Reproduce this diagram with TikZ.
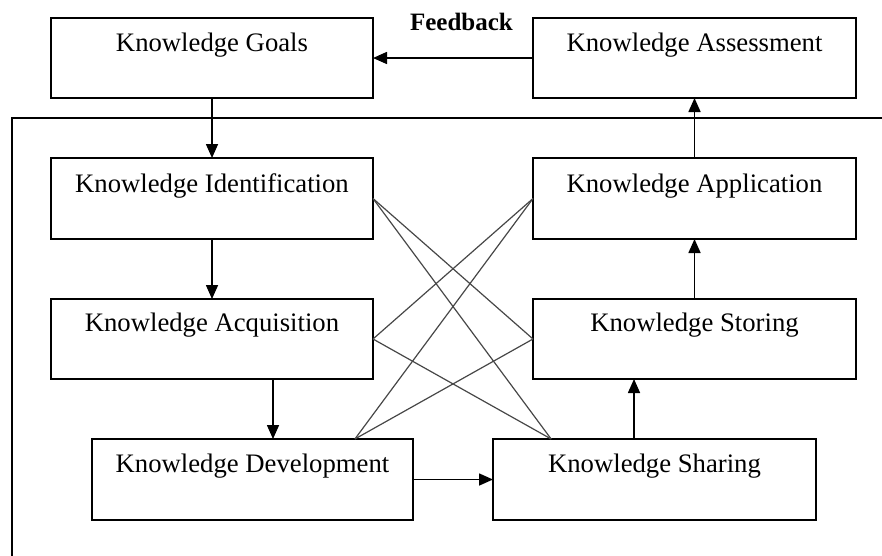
\documentclass[tikz,border=0pt]{standalone}
\usepackage{fontspec}
\setmainfont{Liberation Serif}
\usetikzlibrary{arrows.meta,calc}
\newcommand{\kfont}{\fontsize{26.7}{30}\selectfont}
\newcommand{\fbfont}{\fontsize{25}{28}\selectfont\bfseries}
\begin{document}
\begin{tikzpicture}[x=1pt,y=-1pt,
  kbox/.style={draw, line width=1.6pt, minimum width=322pt, minimum height=80pt, inner sep=0pt, outer sep=0pt},
  ktext/.style={font=\kfont, inner sep=0pt, anchor=north},
  arr/.style={line width=1.6pt, -{Triangle[length=14pt,width=12pt]}},
  cross/.style={line width=1.2pt, draw=black!72},
  frame/.style={line width=1.6pt}
]
\useasboundingbox (0,0) rectangle (882,555);

% boxes
\node[kbox] (goals)  at (212,58) {};
\node[kbox, minimum width=323pt] (assess) at (694.5,58) {};
\node[kbox, minimum height=81pt] (ident)  at (212,198.5) {};
\node[kbox, minimum width=323pt, minimum height=81pt] (appl) at (694.5,198.5) {};
\node[kbox] (acq)    at (212,339) {};
\node[kbox, minimum width=323pt] (stor) at (694.5,339) {};
\node[kbox, minimum width=321pt, minimum height=81pt] (dev) at (252.5,479.5) {};
\node[kbox, minimum width=323pt, minimum height=81pt] (share) at (654.5,479.5) {};

% texts
\node[ktext] (goalsT)  at ([yshift=-14.5pt]goals.north)  {Knowledge Goals};
\node[ktext] (assessT) at ([yshift=-14.5pt]assess.north) {Knowledge Assessment};
\node[ktext] (identT)  at ([yshift=-15.5pt]ident.north)  {Knowledge Identification};
\node[ktext] (applT)   at ([yshift=-15.5pt]appl.north)   {Knowledge Application};
\node[ktext] (acqT)    at ([yshift=-14pt]acq.north)      {Knowledge Acquisition};
\node[ktext] (storT)   at ([yshift=-14pt]stor.north)     {Knowledge Storing};
\node[ktext] (devT)    at ([yshift=-14.5pt]dev.north)    {Knowledge Development};
\node[ktext] (shareT)  at ([yshift=-14.5pt]share.north)  {Knowledge Sharing};

\node[font=\fbfont, inner sep=0pt, anchor=base] (fb) at (461.5,30) {Feedback};

% frame
\draw[frame] (12,556) -- (12,118) -- (883,118);

% cross connections
\coordinate (devtop) at ($(dev.north west)!0.819!(dev.north east)$);
\coordinate (sharetop) at ($(share.north west)!0.18!(share.north east)$);
\draw[cross] (ident.east) -- (stor.west);
\draw[cross] (ident.east) -- (sharetop);
\draw[cross] (appl.west) -- (acq.east);
\draw[cross] (appl.west) -- (devtop);
\draw[cross] (acq.east) -- (sharetop);
\draw[cross] (devtop) -- (stor.west);

% arrows
\draw[arr] (goals.south) -- (ident.north);
\draw[arr] (ident.south) -- (acq.north);
\draw[arr] ([xshift=61pt]acq.south) -- ([xshift=61pt]acq.south |- dev.north);
\draw[arr] (dev.east) -- (share.west);
\draw[arr] ([xshift=-20.5pt]share.north) -- ([xshift=-20.5pt]share.north |- stor.south);
\draw[arr] (stor.north) -- (appl.south);
\draw[arr] (appl.north) -- (assess.south);
\draw[arr] (assess.west) -- (goals.east);
\end{tikzpicture}
\end{document}
